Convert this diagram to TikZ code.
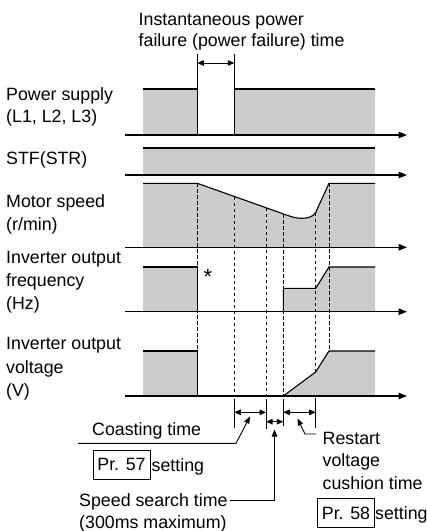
\documentclass[tikz,border=0pt]{standalone}
\usepackage{fontspec}
\setmainfont{Liberation Sans}
\usetikzlibrary{arrows.meta}
\definecolor{fillgray}{gray}{0.8}
\begin{document}
\begin{tikzpicture}[x=1pt,y=-1pt,
  lbl/.style={anchor=base west, inner sep=0pt, font=\fontsize{17.8pt}{21pt}\selectfont},
  axis/.style={line width=1.4pt, -{Triangle[length=8.5pt,width=6.5pt]}},
  sig/.style={line width=1.1pt, line join=miter},
  area/.style={fill=fillgray},
  guide/.style={line width=0.9pt, dash pattern=on 3.5pt off 2.5pt},
  tickline/.style={line width=0.9pt},
  span/.style={line width=0.9pt, {Triangle[length=6.5pt,width=5.5pt]}-{Triangle[length=6.5pt,width=5.5pt]}},
  leader/.style={line width=0.9pt, -{Triangle[length=7pt,width=5.5pt]}},
  prbox/.style={draw, line width=0.9pt, inner sep=0pt, minimum width=57pt, minimum height=29pt, font=\fontsize{17.8pt}{21pt}\selectfont}
]
\useasboundingbox (0,0) rectangle (427,531);

% ---------- gray areas ----------
\fill[area] (143,89) rectangle (197.3,135);
\fill[area] (234.3,89) rectangle (375,135);
\fill[area] (143,148) rectangle (375,175);
\fill[area] (143,247.3) -- (143,183.3) -- (197.3,183.3) -- (280,212.7)
  .. controls (291,216.8) and (296,218.4) .. (302,218.3)
  .. controls (309,218.2) and (313,216.5) .. (315.7,212.5)
  -- (329,183.3) -- (375,183.3) -- (375,247.3) -- cycle;
\fill[area] (143,267) rectangle (197.3,311.7);
\fill[area] (283.3,311.7) -- (283.3,288.3) -- (315.7,288.3) -- (329,267) -- (375,267) -- (375,311.7) -- cycle;
\fill[area] (143,351) rectangle (197.3,396);
\fill[area] (283.3,396) -- (315.7,372) -- (329,351) -- (375,351) -- (375,396) -- cycle;

% ---------- dashed time guides ----------
\draw[guide] (197.3,183.3) -- (197.3,351);
\draw[guide] (234.3,196.7) -- (234.3,396);
\draw[guide] (266,207.9) -- (266,396);
\draw[guide] (283.3,214) -- (283.3,396);
\draw[guide] (315.7,212.8) -- (315.7,372);
\draw[guide] (329,183.3) -- (329,351);

% ---------- signal outlines ----------
\draw[sig] (143,89) -- (197.3,89) -- (197.3,135);
\draw[sig] (234.3,135) -- (234.3,89) -- (375,89);
\draw[tickline] (197.3,89) -- (197.3,54);
\draw[tickline] (234.3,89) -- (234.3,54);
\draw[sig] (143,148) -- (375,148);
\draw[sig] (143,183.3) -- (197.3,183.3) -- (280,212.7)
  .. controls (291,216.8) and (296,218.4) .. (302,218.3)
  .. controls (309,218.2) and (313,216.5) .. (315.7,212.5)
  -- (329,183.3) -- (375,183.3);
\draw[sig] (143,267) -- (197.3,267) -- (197.3,311.7);
\draw[sig] (283.3,311.7) -- (283.3,288.3) -- (315.7,288.3) -- (329,267) -- (375,267);
\draw[sig] (143,351) -- (197.3,351) -- (197.3,396);
\draw[sig] (283.3,396) -- (315.7,372) -- (329,351) -- (375,351);

% ---------- axes ----------
\draw[axis] (125,135) -- (407,135);
\draw[axis] (125,175) -- (407,175);
\draw[axis] (125,247.3) -- (407,247.3);
\draw[axis] (125,311.7) -- (407,311.7);
\draw[axis] (125,396) -- (407,396);

% ---------- time spans ----------
\draw[span] (197.3,63) -- (234.3,63);
\draw[tickline] (234.3,399) -- (234.3,428);
\draw[tickline] (266,399) -- (266,429);
\draw[tickline] (283.3,399) -- (283.3,426);
\draw[tickline] (315.7,398) -- (315.7,428);
\draw[span] (234.3,412.3) -- (266,412.3);
\draw[span] (266,421.7) -- (283.3,421.7);
\draw[span] (283.3,412.3) -- (315.7,412.3);

% ---------- labels ----------
\node[lbl] (ipf1) at (138.5,25) {Instantaneous power};
\node[lbl] (ipf2) at (138.5,46.7) {failure (power failure) time};
\node[lbl] (ps1) at (6,100.7) {Power supply};
\node[lbl] (ps2) at (6,122) {(L1, L2, L3)};
\node[lbl] (stf) at (6,164) {STF(STR)};
\node[lbl] (ms1) at (6,207.7) {Motor speed};
\node[lbl] (ms2) at (6,230.7) {(r/min)};
\node[lbl] (of1) at (6,263) {Inverter output};
\node[lbl] (of2) at (6,286) {frequency};
\node[lbl] (of3) at (6,309) {(Hz)};
\node[lbl] (ov1) at (6,349) {Inverter output};
\node[lbl] (ov2) at (6,373) {voltage};
\node[lbl] (ov3) at (6,396) {(V)};
\node[lbl, font=\fontsize{22pt}{24pt}\selectfont] (star) at (203.5,284) {*};

\node[lbl] (coast) at (92,435) {Coasting time};
\node[prbox] (pr57) at (121.5,464.7) {Pr. 57};
\node[lbl] (set57) at (151.5,471.7) {setting};
\node[lbl] (ss1) at (79,506) {Speed search time};
\node[lbl] (ss2) at (79,528) {(300ms maximum)};
\node[lbl] (rs1) at (322.5,444) {Restart};
\node[lbl] (rs2) at (322.5,466.7) {voltage};
\node[lbl] (rs3) at (322.5,489) {cushion time};
\node[prbox] (pr58) at (346,513) {Pr. 58};
\node[lbl] (set58) at (375,519) {setting};

% ---------- leaders ----------
\coordinate (coastL) at (78,443.3);
\coordinate (coastK) at (236,443.3);
\coordinate (coastTip) at (250,416.5);
\draw[leader] (coastL) -- (coastK) -- (coastTip);
\coordinate (ssL) at (230,500.5);
\coordinate (ssK) at (274.5,500.5);
\coordinate (ssTip) at (274.5,429.5);
\draw[leader] (ssL) -- (ssK) -- (ssTip);
\coordinate (rsR) at (316,434);
\coordinate (rsK) at (305,434);
\coordinate (rsTip) at (297.5,418.5);
\draw[leader] (rsR) -- (rsK) -- (rsTip);
\end{tikzpicture}
\end{document}
